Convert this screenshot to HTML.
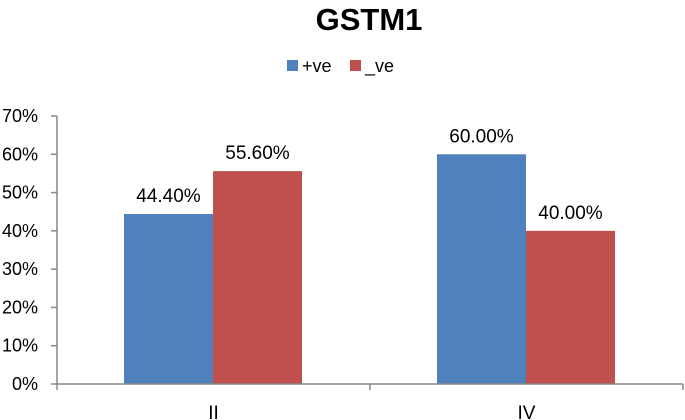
<!DOCTYPE html>
<html><head><meta charset="utf-8"><style>
body{margin:0;background:#fff;}
svg{display:block;font-family:"Liberation Sans",Arial,sans-serif;}
</style></head><body>
<svg id="chart" width="685" height="420">
<text x="369" y="30" font-size="31" font-weight="bold" text-anchor="middle" fill="#000">GSTM1</text>
<g>
<rect x="287" y="60" width="11" height="11" fill="#4F81BD"/>
<text x="302" y="72" font-size="18">+ve</text>
<rect x="350" y="60" width="11" height="11" fill="#C0504D"/>
<text x="365" y="72" font-size="18">_ve</text>
</g>
<g id="plot"></g>
</svg>
<script>
const categories = ["II", "IV"];
const posValues = [44.4, 60.0];
const negValues = [55.6, 40.0];
const posLabels = ["44.40%", "60.00%"];
const negLabels = ["55.60%", "40.00%"];
const yTicks = [0, 10, 20, 30, 40, 50, 60, 70];

const x0 = 57, x1 = 683, yBase = 384, yTop = 116, yMax = 70;
const ns = "http://www.w3.org/2000/svg";
const plot = document.getElementById('plot');
const y = v => yBase - (yBase - yTop) * v / yMax;
const bandW = (x1 - x0) / categories.length;
const bx = i => x0 + i * bandW;
const barW = 89, gapL = 67;
function mk(tag, attrs, parent) {
  const el = document.createElementNS(ns, tag);
  for (const k in attrs) el.setAttribute(k, attrs[k]);
  (parent || plot).appendChild(el);
  return el;
}
yTicks.forEach(t => {
  const ln = mk('line', {x1: 51, x2: x0, y1: y(t), y2: y(t), stroke: '#888', 'stroke-width': 1.5});
  
  
  const tx = mk('text', {x: 38, y: y(t) + 6, 'font-size': 18, 'text-anchor': 'end'});
  tx.textContent = t + '%';
  
  
});
categories.forEach((c, i) => {
  const left = bx(i) + gapL;
  const b1 = mk('rect', {x: left, y: y(posValues[i]), width: barW, height: yBase - y(posValues[i]), fill: '#4F81BD'});
  
  
  const b2 = mk('rect', {x: left + barW, y: y(negValues[i]), width: barW, height: yBase - y(negValues[i]), fill: '#C0504D'});
  
  
  const l1 = mk('text', {x: left + barW / 2, y: y(posValues[i]) - 12, 'font-size': 19, 'text-anchor': 'middle'});
  l1.textContent = posLabels[i];
  
  
  const l2 = mk('text', {x: left + barW * 1.5, y: y(negValues[i]) - 12, 'font-size': 19, 'text-anchor': 'middle'});
  l2.textContent = negLabels[i];
  
  
  const cl = mk('text', {x: bx(i) + bandW / 2, y: 419, 'font-size': 19, 'text-anchor': 'middle'});
  cl.textContent = c;
  
  
});
const ya = mk('line', {x1: x0, x2: x0, y1: yTop, y2: yBase + 6, stroke: '#888', 'stroke-width': 1.5});


const xa = mk('line', {x1: x0, x2: x1, y1: yBase, y2: yBase, stroke: '#888', 'stroke-width': 1.5});


for (let i = 1; i <= categories.length; i++) {
  const tk = mk('line', {x1: bx(i), x2: bx(i), y1: yBase, y2: yBase + 6, stroke: '#888', 'stroke-width': 1.5});
  
  
}
</script>
</body></html>
